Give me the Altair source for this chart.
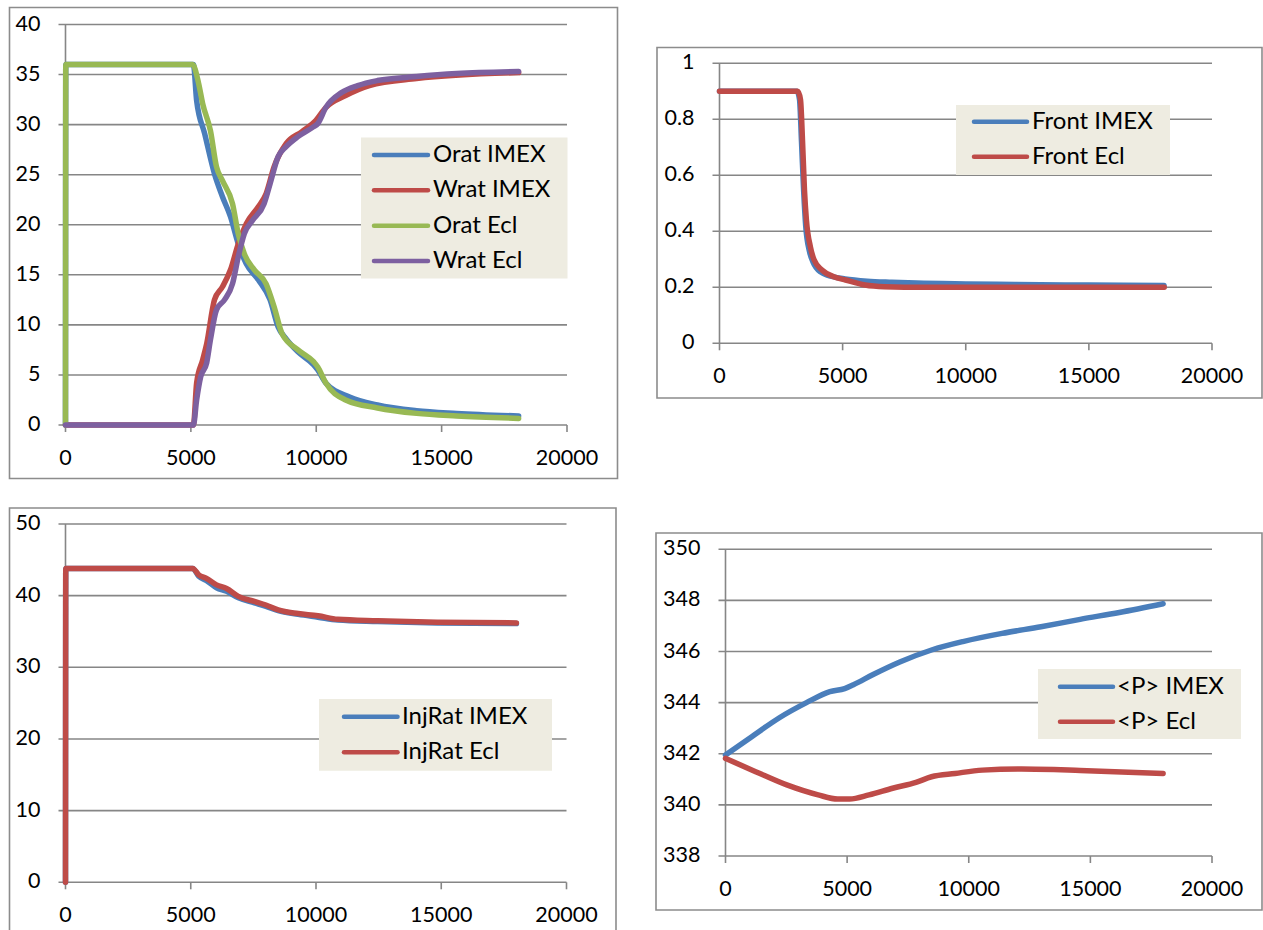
import altair as alt
import pandas as pd

# ---------------- data ----------------
X_TICKS = [0, 5000, 10000, 15000, 20000]

# Panel 1 : rates
p1_names = ["Orat IMEX", "Wrat IMEX", "Orat Ecl", "Wrat Ecl"]
p1_colors = ["#4A7EBB", "#BE4B48", "#98B954", "#7D60A0"]
p1_yticks = [0, 5, 10, 15, 20, 25, 30, 35, 40]

orat_imex_x = [0, 10, 5100, 5230, 5550, 5940, 6260, 6580, 6890, 7210, 7690, 8160, 8480,
               8800, 9270, 9900, 10060, 10380, 11330, 12440, 14000, 15600, 18070]
orat_imex_y = [0, 36, 36, 32.4, 29.1, 25.1, 22.8, 20.8, 18.1, 16.1, 14.5, 12.5, 9.8,
               8.6, 7.3, 6.0, 5.5, 4.2, 2.8, 2.0, 1.43, 1.16, 0.9]

wrat_imex_x = [0, 5100, 5230, 5470, 5630, 5940, 6260, 6580, 6890, 7210, 7690, 8000, 8320,
               8800, 9430, 9980, 10380, 11170, 12120, 14000, 18070]
wrat_imex_y = [0, 0, 4.2, 6.5, 8.1, 12.5, 13.8, 15.5, 18.1, 20.1, 21.8, 23.1, 25.8,
               28.1, 29.3, 30.4, 31.7, 32.9, 33.9, 34.6, 35.2]

orat_ecl_x = [0, 10, 5070, 5310, 5470, 5780, 6020, 6260, 6660, 6890, 7130, 7530, 8000,
              8320, 8640, 9270, 9900, 10060, 10380, 11170, 12440, 14000, 15600, 18070]
orat_ecl_y = [0, 36, 36, 34.1, 32.1, 29.4, 25.8, 24.4, 22.1, 19.1, 17.1, 15.5, 14.1,
              11.8, 9.1, 7.5, 6.3, 5.8, 4.2, 2.5, 1.7, 1.16, 0.9, 0.66]

wrat_ecl_x = [0, 5100, 5230, 5390, 5630, 5780, 6020, 6340, 6660, 6890, 7130, 7450, 7920,
              8160, 8480, 8800, 9270, 9900, 10060, 10380, 11010, 11650, 12440, 14000, 15600, 18070]
wrat_ecl_y = [0, 0, 2.5, 4.8, 6.2, 8.5, 11.5, 12.5, 14.1, 16.8, 19.1, 20.4, 22.1,
              24.1, 26.8, 27.8, 28.8, 29.8, 30.1, 31.7, 33.2, 33.9, 34.4, 34.8, 35.1, 35.3]

# Panel 2 : front
p2_names = ["Front IMEX", "Front Ecl"]
p2_colors = ["#4A7EBB", "#BE4B48"]
p2_yticks = [0, 0.2, 0.4, 0.6, 0.8, 1]
p2_ylabels = ["0", "0.2", "0.4", "0.6", "0.8", "1"]

front_imex_x = [0, 3150, 3250, 3330, 3420, 3500, 3650, 3800, 4100, 4600, 5100, 6000,
                7000, 8000, 10000, 12000, 15000, 18050]
front_imex_y = [0.9, 0.9, 0.87, 0.72, 0.54, 0.42, 0.33, 0.29, 0.255, 0.238, 0.23, 0.222,
                0.218, 0.215, 0.212, 0.21, 0.208, 0.206]
front_ecl_x = [0, 3180, 3290, 3370, 3450, 3530, 3690, 3840, 4160, 4640, 5120, 5910,
               6700, 8300, 12000, 18060]
front_ecl_y = [0.9, 0.9, 0.87, 0.726, 0.548, 0.44, 0.345, 0.298, 0.262, 0.238, 0.226,
               0.208, 0.202, 0.2, 0.2, 0.2]

# Panel 3 : injection rate
p3_names = ["InjRat IMEX", "InjRat Ecl"]
p3_colors = ["#4A7EBB", "#BE4B48"]
p3_yticks = [0, 10, 20, 30, 40, 50]
injrat_x = [0, 10, 5080, 5320, 5630, 6030, 6430, 6900, 7540, 8000, 8490, 9290,
            10080, 10870, 12460, 14840, 18000]
injrat_imex_y = [0, 43.8, 43.8, 42.7, 42.1, 41.1, 40.6, 39.7, 39.0, 38.5, 37.9, 37.4,
                 37.0, 36.6, 36.4, 36.2, 36.1]
injrat_ecl_y = [0, 43.8, 43.8, 42.9, 42.4, 41.5, 41.0, 39.9, 39.2, 38.7, 38.0, 37.5,
                37.2, 36.7, 36.5, 36.3, 36.2]

# Panel 4 : average pressure
p4_names = ["<P> IMEX", "<P> Ecl"]
p4_colors = ["#4A7EBB", "#BE4B48"]
p4_yticks = [338, 340, 342, 344, 346, 348, 350]
p_imex_x = [0, 1080, 2200, 3330, 4290, 4900, 5260, 6070, 7190, 8470, 9760, 11370,
            12970, 14580, 16190, 17990]
p_imex_y = [341.95, 342.67, 343.4, 344.0, 344.43, 344.55, 344.7, 345.1, 345.6, 346.06,
            346.39, 346.71, 346.97, 347.26, 347.53, 347.87]
p_ecl_x = [0, 1240, 2520, 3810, 4610, 5100, 5900, 6870, 7830, 8470, 9440, 10560,
           12170, 14580, 17990]
p_ecl_y = [341.82, 341.3, 340.78, 340.39, 340.23, 340.23, 340.39, 340.65, 340.88, 341.1,
           341.23, 341.36, 341.4, 341.35, 341.23]

# ---------------- styling ----------------
FONT = "Lato"
TICK_FS = 21.5
LEG_FS = 24
GRID = "#868686"
FRAME = "#8C8C8C"
LEG_BG = "#EEECE1"
LW = 5.5


def panel(xr, yr, ydom, yticks, ylabels, series, frame, legend):
    """Build all layers of one Excel-like panel.
    xr/yr: pixel ranges of the plot area, ydom: y domain."""
    xs = alt.Scale(domain=[0, 20000], range=xr, nice=False, zero=False)
    ys = alt.Scale(domain=ydom, range=yr, nice=False, zero=False)
    ymin = ydom[0]
    layers = []

    # chart frame
    fx0, fx1, fy0, fy1 = frame
    layers.append(
        alt.Chart(pd.DataFrame({"a": [0]})).mark_rect(
            fill="white", stroke=FRAME, strokeWidth=1.6
        ).encode(x=alt.value(fx0), x2=alt.value(fx1), y=alt.value(fy0), y2=alt.value(fy1))
    )

    # horizontal gridlines (with left tick extension)
    gdf = pd.DataFrame({"v": yticks, "x0": 0, "x1": 20000})
    layers.append(
        alt.Chart(gdf).mark_rule(color=GRID, strokeWidth=1.6, xOffset=-7).encode(
            x=alt.X("x0:Q", scale=xs, axis=None), x2="x1:Q",
            y=alt.Y("v:Q", scale=ys, axis=None))
    )
    # y axis line
    adf = pd.DataFrame({"x": [0], "y0": [ydom[0]], "y1": [ydom[1]]})
    layers.append(
        alt.Chart(adf).mark_rule(color=GRID, strokeWidth=1.6).encode(
            x=alt.X("x:Q", scale=xs, axis=None),
            y=alt.Y("y0:Q", scale=ys, axis=None), y2="y1:Q")
    )
    # x ticks
    tdf = pd.DataFrame({"x": X_TICKS, "y": ymin})
    layers.append(
        alt.Chart(tdf).mark_rule(color=GRID, strokeWidth=1.6, y2Offset=7).encode(
            x=alt.X("x:Q", scale=xs, axis=None),
            y=alt.Y("y:Q", scale=ys, axis=None), y2="y:Q")
    )
    # y tick labels
    ldf = pd.DataFrame({"v": yticks, "lab": ylabels, "x": 0})
    layers.append(
        alt.Chart(ldf).mark_text(align="right", baseline="middle", dx=-25,
                                 font=FONT, fontSize=TICK_FS, color="black").encode(
            x=alt.X("x:Q", scale=xs, axis=None),
            y=alt.Y("v:Q", scale=ys, axis=None), text="lab:N")
    )
    # x tick labels
    xdf = pd.DataFrame({"x": X_TICKS, "lab": [str(t) for t in X_TICKS], "y": ymin})
    layers.append(
        alt.Chart(xdf).mark_text(align="center", baseline="middle", dy=34,
                                 font=FONT, fontSize=TICK_FS, color="black").encode(
            x=alt.X("x:Q", scale=xs, axis=None),
            y=alt.Y("y:Q", scale=ys, axis=None), text="lab:N")
    )
    # data series
    for name, color, sx, sy in series:
        df = pd.DataFrame({"x": sx, "y": sy, "s": name})
        layers.append(
            alt.Chart(df).mark_line(color=color, strokeWidth=LW, strokeCap="round",
                                    strokeJoin="round", interpolate="monotone").encode(
                x=alt.X("x:Q", scale=xs, axis=None),
                y=alt.Y("y:Q", scale=ys, axis=None))
        )

    # legend
    (bx0, bx1, by0, by1), (r0, r1), (sx0, sx1, tx) = legend
    names = [s[0] for s in series]
    cols = [s[1] for s in series]
    layers.append(
        alt.Chart(pd.DataFrame({"a": [0]})).mark_rect(fill=LEG_BG).encode(
            x=alt.value(bx0), x2=alt.value(bx1), y=alt.value(by0), y2=alt.value(by1))
    )
    ldf2 = pd.DataFrame({"name": names, "row": list(range(len(names)))})
    rs = alt.Scale(type="point", domain=list(range(len(names))), range=[r0, r1], padding=0)
    cs = alt.Scale(domain=names, range=cols)
    layers.append(
        alt.Chart(ldf2).mark_rule(strokeWidth=4.5, strokeCap="round").encode(
            x=alt.value(sx0), x2=alt.value(sx1),
            y=alt.Y("row:O", scale=rs, axis=None),
            color=alt.Color("name:N", scale=cs, legend=None))
    )
    layers.append(
        alt.Chart(ldf2).mark_text(align="left", baseline="middle", font=FONT,
                                  fontSize=LEG_FS, color="black").encode(
            x=alt.value(tx),
            y=alt.Y("row:O", scale=rs, axis=None),
            text="name:N")
    )
    return layers


layers = []
layers += panel(
    [65.5, 567], [425, 24.5], [0, 40], p1_yticks, [str(v) for v in p1_yticks],
    [(p1_names[0], p1_colors[0], orat_imex_x, orat_imex_y),
     (p1_names[1], p1_colors[1], wrat_imex_x, wrat_imex_y),
     (p1_names[2], p1_colors[2], orat_ecl_x, orat_ecl_y),
     (p1_names[3], p1_colors[3], wrat_ecl_x, wrat_ecl_y)],
    (9.5, 617.5, 7.5, 478.5),
    ((361, 567.5, 137.5, 278.5), (155, 261), (374, 428, 433)),
)
layers += panel(
    [719.5, 1212], [343.3, 63.3], [0, 1], p2_yticks, p2_ylabels,
    [(p2_names[0], p2_colors[0], front_imex_x, front_imex_y),
     (p2_names[1], p2_colors[1], front_ecl_x, front_ecl_y)],
    (657, 1262, 47.5, 398),
    ((956, 1170, 105, 175), (121.7, 156.7), (974, 1027, 1032)),
)
layers += panel(
    [65.5, 566.5], [882.3, 524], [0, 50], p3_yticks, [str(v) for v in p3_yticks],
    [(p3_names[0], p3_colors[0], injrat_x, injrat_imex_y),
     (p3_names[1], p3_colors[1], injrat_x, injrat_ecl_y)],
    (9.5, 616, 508, 945),
    ((319, 552, 699, 770.7), (716.7, 752.3), (344, 397.5, 402)),
)
layers += panel(
    [725.5, 1212], [856, 549.3], [338, 350], p4_yticks, [str(v) for v in p4_yticks],
    [(p4_names[0], p4_colors[0], p_imex_x, p_imex_y),
     (p4_names[1], p4_colors[1], p_ecl_x, p_ecl_y)],
    (656, 1262, 533, 910),
    ((1038, 1241, 669, 739), (686.7, 721.7), (1060, 1113, 1117)),
)

chart = alt.layer(*layers).resolve_scale(
    x="independent", y="independent", color="independent"
).properties(
    width=1263, height=930, padding=0, autosize="none", background="white"
).configure_view(stroke=None)

chart.save("out.html", embed_options={"renderer": "svg", "actions": False})
